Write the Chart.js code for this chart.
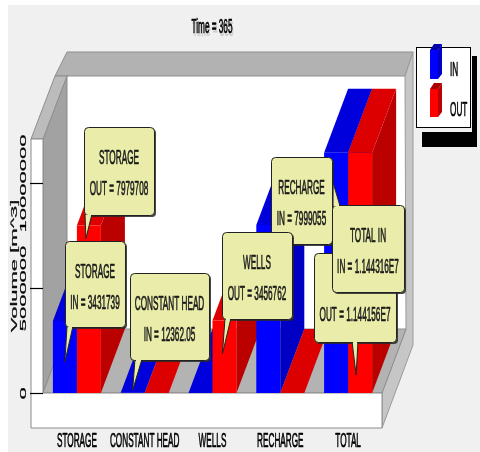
<!DOCTYPE html>
<html>
<head>
<meta charset="utf-8">
<script src="https://cdn.jsdelivr.net/npm/chart.js@4/dist/chart.umd.min.js"></script>
<style>
  html, body { margin: 0; padding: 0; background: #ffffff; }
  canvas { display: block; }
</style>
</head>
<body>
<canvas id="budget" width="480" height="452"></canvas>
<script>
// ---- data ---------------------------------------------------------------
const categories = ['STORAGE', 'CONSTANT HEAD', 'WELLS', 'RECHARGE', 'TOTAL'];
const seriesNames = ['IN', 'OUT'];
const volumeIn  = [3431739, 12362.05, 0, 7999055, 11443160];
const volumeOut = [7979708, 5090, 3456762, 0, 11441560];
const yTicks = [0, 5000000, 10000000];
const yMax = 12100000;
const timeLabel = 'Time = 365';
const yTitle = 'Volume [m^3]';

// ---- look ---------------------------------------------------------------
const SX = 0.41;                       // narrow lettering
const DEPTH = { x: 24, y: -64 };       // 3D depth offset of the plot box
const FONT = '"Liberation Sans", Arial, sans-serif';
const faces = [
  { front: '#0000ff', top: '#0000dd', side: '#0000c4' },
  { front: '#ff0000', top: '#dd0000', side: '#bb0000' }
];
const noteFill = '#e9eda9';

// callout boxes: series, category, box [x, y, w, h], pointer
const callouts = [
  { s: 1, c: 0, box: [84, 127, 70, 88],  ptr: { edge: 'bottom', at: 1,  w: 7, tip: [-3, 13],  from: 'top' } },
  { s: 0, c: 0, box: [65, 241, 60, 86],  ptr: { edge: 'bottom', at: 2,  w: 6, tip: [0, 41],   from: 'top' } },
  { s: 0, c: 1, box: [130, 273, 79, 87], ptr: { edge: 'bottom', at: 5,  w: 7, tip: [0, -3],   from: 'base' } },
  { s: 0, c: 3, box: [271, 157, 61, 87], ptr: null },
  { s: 1, c: 2, box: [222, 232, 70, 87], ptr: { edge: 'bottom', at: 3,  w: 6, tip: [-2, 33],  from: 'top' } },
  { s: 1, c: 4, box: [314, 253, 82, 89], ptr: { edge: 'bottom', at: 38, w: 6, tip: [-4, -18], from: 'base' } },
  { s: 0, c: 4, box: [332, 205, 72, 87], ptr: { edge: 'top',    at: 1,  w: 7, tip: [-3, 30],  from: 'top' } }
];

function fmtValue(v) {
  if (Math.abs(v) >= 1e7) {
    const e = Math.floor(Math.log10(Math.abs(v)));
    let m = (v / Math.pow(10, e)).toFixed(6).replace(/0+$/, '').replace(/\.$/, '');
    return m + 'E' + e;
  }
  return String(Math.round(v * 100) / 100);
}

function txt(ctx, s, x, y, o) {
  o = o || {};
  ctx.save();
  ctx.translate(x, y);
  if (o.rot) { ctx.rotate(-Math.PI / 2); ctx.scale(1, SX); }
  else ctx.scale(o.sx || SX, 1);
  ctx.font = (o.size || 20) + 'px ' + FONT;
  ctx.textAlign = o.align || 'center';
  ctx.textBaseline = o.baseline || 'alphabetic';
  ctx.fillStyle = o.color || '#000';
  ctx.strokeStyle = o.color || '#000';
  ctx.lineWidth = o.weight === undefined ? 0.7 : o.weight;
  ctx.lineJoin = 'round';
  ctx.fillText(s, 0, 0);
  if (ctx.lineWidth > 0) ctx.strokeText(s, 0, 0);
  ctx.restore();
}

function poly(ctx, pts, fill, stroke) {
  ctx.beginPath();
  ctx.moveTo(pts[0][0], pts[0][1]);
  for (let i = 1; i < pts.length; i++) ctx.lineTo(pts[i][0], pts[i][1]);
  ctx.closePath();
  if (fill) { ctx.fillStyle = fill; ctx.fill(); }
  if (stroke) { ctx.strokeStyle = stroke; ctx.lineWidth = 1; ctx.stroke(); }
}

function rrect(ctx, x, y, w, h, r) {
  ctx.beginPath();
  ctx.moveTo(x + r, y);
  ctx.lineTo(x + w - r, y); ctx.quadraticCurveTo(x + w, y, x + w, y + r);
  ctx.lineTo(x + w, y + h - r); ctx.quadraticCurveTo(x + w, y + h, x + w - r, y + h);
  ctx.lineTo(x + r, y + h); ctx.quadraticCurveTo(x, y + h, x, y + h - r);
  ctx.lineTo(x, y + r); ctx.quadraticCurveTo(x, y, x + r, y);
  ctx.closePath();
}

// ---- scenery: panel, walls, floor, axis -----------------------------------
const scenery = {
  id: 'scenery',
  beforeDraw(chart) {
    const ctx = chart.ctx, a = chart.chartArea;
    const bl = a.left + DEPTH.x, br = a.right + DEPTH.x;
    const bt = a.top + DEPTH.y, bb = a.bottom + DEPTH.y;
    const floorB = a.bottom + 35;
    ctx.save();
    ctx.fillStyle = '#ffffff'; ctx.fillRect(0, 0, chart.width, chart.height);
    ctx.fillStyle = '#f0f0f0'; ctx.fillRect(8, 5, chart.width - 8, chart.height - 5);

    // back wall
    ctx.fillStyle = '#ffffff'; ctx.fillRect(bl, bt, br - bl, bb - bt);
    // top rim of back wall
    poly(ctx, [[bl - 12, bt + 1], [br - 1, bt + 1], [br + 7, bt - 23], [bl, bt - 23]], '#b2b2b2', '#8e8e8e');
    // right rim + floor side
    poly(ctx, [[br - 1, bt + 1], [br + 7, bt - 23], [br + 7, floorB + DEPTH.y - 19], [a.right, floorB], [a.right, a.bottom], [br, bb]], '#c6c6c6', '#9a9a9a');
    // left wall inner face and top edge
    poly(ctx, [[a.left, a.top], [bl, bt], [bl, bb], [a.left, a.bottom]], '#a2a2a2', '#8a8a8a');
    poly(ctx, [[a.left - 12, a.top], [a.left, a.top], [bl, bt + 1], [bl - 12, bt + 1]], '#bcbcbc', '#8e8e8e');
    // floor top
    poly(ctx, [[a.left, a.bottom], [a.right, a.bottom], [br, bb], [bl, bb]], '#b3b3b3', '#8e8e8e');
    // front faces of the left wall and floor
    poly(ctx, [[a.left - 12, a.top], [a.left, a.top], [a.left, a.bottom], [a.right, a.bottom], [a.right, floorB], [a.left - 12, floorB]], '#ffffff', '#8a8a8a');

    // value axis ticks and labels
    const y = chart.scales.y;
    ctx.strokeStyle = '#000'; ctx.lineWidth = 1.2;
    yTicks.forEach(v => {
      const py = Math.round(y.getPixelForValue(v)) + 0.5;
      ctx.beginPath(); ctx.moveTo(a.left - 13, py); ctx.lineTo(a.left, py); ctx.stroke();
      txt(ctx, String(v), a.left - 19.5, py, { rot: true, size: 22, baseline: 'middle', weight: 0.5 });
    });
    txt(ctx, yTitle, 15, (a.top + a.bottom) / 2, { rot: true, size: 22, baseline: 'middle', color: '#111', weight: 0.5 });

    // title with soft shadow
    txt(ctx, timeLabel, 213, 36, { size: 20, color: '#cacaca', weight: 0.4 });
    txt(ctx, timeLabel, 212, 33, { size: 20 });
    ctx.restore();
  },

  // top and side faces of each bar, left to right; the library draws the fronts
  beforeDatasetsDraw(chart) {
    const ctx = chart.ctx;
    ctx.save();
    categories.forEach((_, i) => {
      [0, 1].forEach(s => {
        const el = chart.getDatasetMeta(s).data[i];
        const l = el.x - el.width / 2, r = el.x + el.width / 2;
        const t = Math.min(el.y, el.base), b = el.base;
        const dx = DEPTH.x, dy = DEPTH.y;
        poly(ctx, [[r, t], [r + dx, t + dy], [r + dx, b + dy], [r, b]], faces[s].side);
        poly(ctx, [[l, t], [r, t], [r + dx, t + dy], [l + dx, t + dy]], faces[s].top);
      });
    });
    ctx.restore();
  },

  afterDatasetsDraw(chart) {
    const ctx = chart.ctx, a = chart.chartArea;
    ctx.save();
    // category labels
    const x = chart.scales.x;
    categories.forEach((c, i) => txt(ctx, c, x.getPixelForValue(i), a.bottom + 54, { size: 20 }));

    // callouts
    callouts.forEach(co => {
      const el = chart.getDatasetMeta(co.s).data[co.c];
      const vals = co.s === 0 ? volumeIn : volumeOut;
      const cat = categories[co.c];
      const head = cat === 'TOTAL' ? cat + ' ' + seriesNames[co.s] : cat;
      const line2 = seriesNames[co.s] + ' = ' + fmtValue(vals[co.c]);
      const [bx, by, bw, bh] = co.box;
      ctx.fillStyle = 'rgba(40,40,40,0.85)';
      rrect(ctx, bx + 2, by + 2, bw, bh, 4); ctx.fill();
      if (co.ptr) {
        const p = co.ptr;
        const ay = p.from === 'base' ? el.base : el.y;
        const tip = [el.x + p.tip[0], ay + p.tip[1]];
        const ey = p.edge === 'bottom' ? by + bh - 1 : by + 1;
        const b1 = [bx + p.at, ey], b2 = [bx + p.at + p.w, ey];
        ctx.beginPath(); ctx.moveTo(b1[0], b1[1]); ctx.lineTo(tip[0], tip[1]); ctx.lineTo(b2[0], b2[1]); ctx.closePath();
        ctx.fillStyle = noteFill; ctx.fill();
        ctx.beginPath(); ctx.moveTo(b1[0], b1[1]); ctx.lineTo(tip[0], tip[1]); ctx.lineTo(b2[0], b2[1]);
        ctx.strokeStyle = '#222'; ctx.lineWidth = 1; ctx.stroke();
      }
      rrect(ctx, bx + 0.5, by + 0.5, bw, bh, 4);
      ctx.fillStyle = noteFill; ctx.fill();
      ctx.strokeStyle = '#222'; ctx.lineWidth = 1; ctx.stroke();
      if (co.ptr) {
        // reopen the box edge where the pointer leaves it
        const p = co.ptr;
        const ey = p.edge === 'bottom' ? by + bh + 0.5 : by + 0.5;
        ctx.strokeStyle = noteFill; ctx.lineWidth = 1.5;
        ctx.beginPath(); ctx.moveTo(bx + p.at + 1, ey); ctx.lineTo(bx + p.at + p.w - 1, ey); ctx.stroke();
      }
      txt(ctx, head, bx + bw / 2, by + 37, { size: 20, color: '#1a1a1a' });
      txt(ctx, line2, bx + bw / 2, by + 68, { size: 20, color: '#1a1a1a' });
    });

    // legend
    ctx.fillStyle = '#000';
    ctx.fillRect(422, 132, 55, 15);
    ctx.fillRect(472, 56, 5, 91);
    ctx.fillStyle = '#fff'; ctx.fillRect(416.5, 47.5, 54, 80);
    ctx.strokeStyle = '#000'; ctx.lineWidth = 1; ctx.strokeRect(416.5, 47.5, 54, 80);
    [[50, 79], [89, 117]].forEach((yy, s) => {
      const [t, b] = yy;
      poly(ctx, [[438, t], [442, t - 6], [442, b - 5], [438, b]], faces[s].side);
      poly(ctx, [[430, t], [438, t], [442, t - 6], [434, t - 6]], s === 0 ? '#0000aa' : '#aa0000');
      ctx.fillStyle = faces[s].front; ctx.fillRect(430, t, 8, b - t);
    });
    txt(ctx, seriesNames[0], 450, 76, { size: 20, align: 'left' });
    txt(ctx, seriesNames[1], 450, 116, { size: 20, align: 'left' });
    ctx.restore();
  }
};

new Chart(document.getElementById('budget'), {
  type: 'bar',
  data: {
    labels: categories,
    datasets: [
      { label: seriesNames[0], data: volumeIn,  backgroundColor: faces[0].front, borderWidth: 0, categoryPercentage: 0.708, barPercentage: 1.0 },
      { label: seriesNames[1], data: volumeOut, backgroundColor: faces[1].front, borderWidth: 0, categoryPercentage: 0.708, barPercentage: 1.0 }
    ]
  },
  options: {
    responsive: false,
    animation: false,
    devicePixelRatio: 1,
    layout: { padding: { left: 43, top: 139, right: 98, bottom: 59 } },
    plugins: { legend: { display: false }, tooltip: { enabled: false }, title: { display: false } },
    scales: {
      x: { display: false, offset: true, grid: { display: false } },
      y: { display: false, min: 0, max: yMax, grid: { display: false } }
    }
  },
  plugins: [scenery]
});
</script>
</body>
</html>
